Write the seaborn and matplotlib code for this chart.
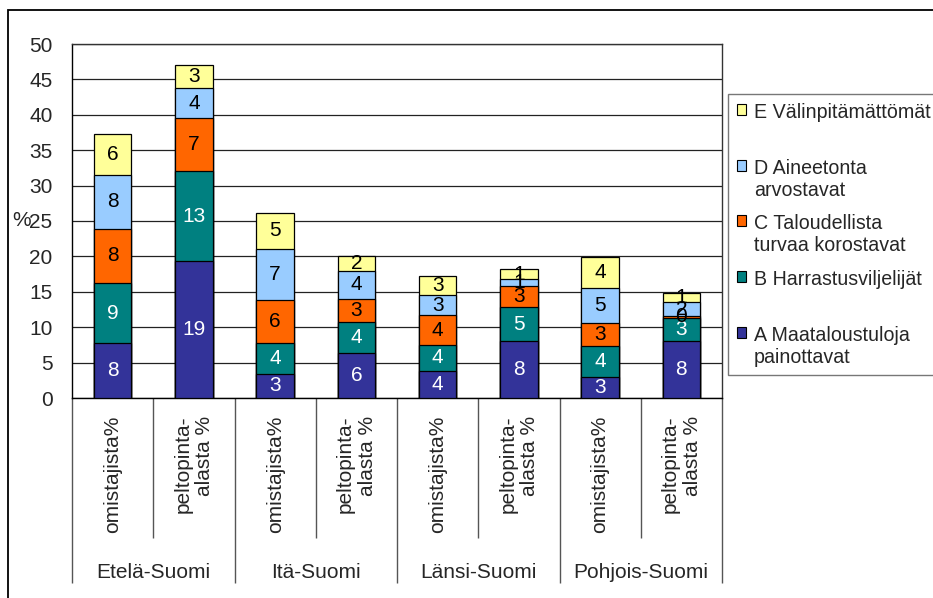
import numpy as np
import pandas as pd
import matplotlib
matplotlib.use("Agg")
import matplotlib.pyplot as plt
import seaborn as sns
from matplotlib.patches import Rectangle
from matplotlib.legend_handler import HandlerPatch

# ---- data ----
regions = ["Etelä-Suomi", "Itä-Suomi", "Länsi-Suomi", "Pohjois-Suomi"]
subs = ["omistajista%", "peltopinta-\nalasta %"]
series_names = ["A Maataloustuloja\npainottavat",
                "B Harrastusviljelijät",
                "C Taloudellista\nturvaa korostavat",
                "D Aineetonta\narvostavat",
                "E Välinpitämättömät"]
A = [7.7, 19.3, 3.4, 6.4, 3.8, 8.1, 3.0, 8.1]
B = [8.6, 12.8, 4.4, 4.3, 3.7, 4.7, 4.4, 3.2]
C = [7.6, 7.4, 6.0, 3.3, 4.2, 3.0, 3.2, 0.3]
D = [7.6, 4.3, 7.3, 4.0, 2.8, 1.0, 5.0, 1.9]
E = [5.8, 3.3, 5.1, 2.1, 2.7, 1.4, 4.3, 1.3]
colors = ["#333399", "#008080", "#FF6600", "#99CCFF", "#FFFF99"]
label_colors = ["white", "white", "black", "black", "black"]
yticks = [0, 5, 10, 15, 20, 25, 30, 35, 40, 45, 50]

sns.set_style("white")
plt.rcParams["font.family"] = ["Liberation Sans", "DejaVu Sans"]
FS = 15

keys = [f"{r}|{s}" for r in regions for s in subs]
vals = np.array([A, B, C, D, E])
cum = np.cumsum(vals, axis=0)

fig = plt.figure(figsize=(9.33, 5.98), dpi=100)
ax = fig.add_axes([72 / 933, 1 - 398 / 598, 650 / 933, 354 / 598])

# draw stacked bars (largest cumulative first)
for k in range(4, -1, -1):
    df = pd.DataFrame({"key": keys, "val": cum[k]})
    sns.barplot(data=df, x="key", y="val", order=keys, color=colors[k],
                saturation=1, edgecolor="black", linewidth=0.9, width=0.46,
                ax=ax, zorder=3)

# segment labels
for k in range(5):
    for i in range(len(keys)):
        mid = cum[k][i] - vals[k][i] / 2
        ax.text(i, mid, f"{vals[k][i]:.0f}", ha="center", va="center",
                fontsize=FS, color=label_colors[k], zorder=5)

ax.set_xlim(-0.5, len(keys) - 0.5)
ax.set_ylim(0, 50)
ax.set_yticks(yticks)
ax.set_yticklabels([str(t) for t in yticks], fontsize=FS)
ax.tick_params(axis="y", direction="out", length=7, width=1, color="#555555", pad=7)
ax.tick_params(axis="x", length=0)
ax.set_xticklabels([])
ax.set_xlabel("")
ax.set_ylabel("%", rotation=0, fontsize=FS)
ax.yaxis.set_label_coords(-0.077, 0.5)
ax.yaxis.label.set_va("center")
ax.grid(axis="y", color="#222222", linewidth=0.9, zorder=0)
ax.set_axisbelow(True)
for sp in ax.spines.values():
    sp.set_color("#333333")
    sp.set_linewidth(1.0)
ax.spines["left"].set_color("black")
ax.spines["bottom"].set_color("black")

# category table below axis
xt = ax.get_xaxis_transform()
n = len(keys)
sub_bounds = [i + 0.5 for i in range(0, n, 2)]
grp_bounds = [i - 0.5 for i in range(0, n + 1, 2)]
ax.vlines(sub_bounds, -0.395, 0, transform=xt, clip_on=False, color="#555555", lw=1)
ax.vlines(grp_bounds, -0.523, 0, transform=xt, clip_on=False, color="#555555", lw=1)
for i, key in enumerate(keys):
    sub = key.split("|")[1]
    ax.text(i, -0.05, sub, transform=xt, rotation=90, ha="center", va="top",
            multialignment="right", fontsize=FS, clip_on=False)
for g, r in enumerate(regions):
    ax.text(2 * g + 0.5, -0.492, r, transform=xt, ha="center", va="center",
            fontsize=FS, clip_on=False)

# outer chart border
fig.patches.append(Rectangle((8 / 933, -0.2), 1.2, 1 - 10 / 598 + 0.2,
                             transform=fig.transFigure, fill=False,
                             edgecolor="black", linewidth=1.3))

# legend
LFS = 14.1
r = fig.canvas.get_renderer()
t1 = fig.text(0, 0, "Ag", fontsize=LFS)
t2 = fig.text(0, 0, "Ag\nAg", fontsize=LFS)
pitch_px = t2.get_window_extent(r).height - t1.get_window_extent(r).height
t1.remove(); t2.remove()
pitch_pt = pitch_px * 72 / fig.dpi


class FirstLineHandler(HandlerPatch):
    def create_artists(self, legend, orig_handle, xdescent, ydescent, width,
                       height, fontsize, trans):
        p = Rectangle((-xdescent, -ydescent + pitch_pt - 5.5), width, height,
                      facecolor=orig_handle.get_facecolor(), edgecolor="black",
                      linewidth=0.8, transform=trans)
        return [p]


handles = [Rectangle((0, 0), 1, 1, facecolor=colors[k]) for k in range(4, -1, -1)]
labels = []
for k in range(4, -1, -1):
    lab = series_names[k]
    if "\n" not in lab:
        lab = lab + "\n "
    labels.append(lab)
leg = fig.legend(handles, labels, loc="upper left",
                 bbox_to_anchor=(728 / 933, 1 - 94 / 598), borderaxespad=0,
                 fontsize=LFS, frameon=True, fancybox=False, shadow=False,
                 handlelength=0.47, handleheight=0.47, handletextpad=0.4,
                 labelspacing=0.75, borderpad=0.45,
                 handler_map={Rectangle: FirstLineHandler()})
leg.get_frame().set_edgecolor("#555555")
leg.get_frame().set_linewidth(1.0)

fig.savefig("out.png", dpi=100)
